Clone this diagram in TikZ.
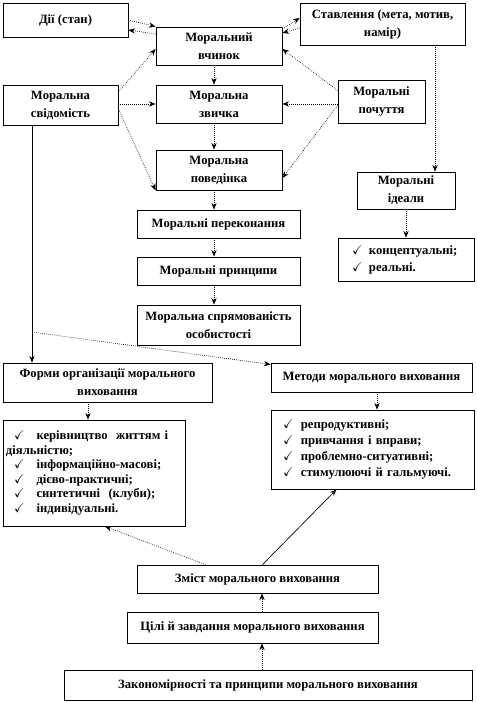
\documentclass[tikz,border=0pt]{standalone}
\usepackage{fontspec}
\usepackage{amssymb}
\setmainfont{Liberation Serif}
\usetikzlibrary{arrows.meta, positioning, calc}

\newcommand{\pxu}{0.75pt}

\begin{document}
\begin{tikzpicture}[
        x=0.75pt, y=-0.75pt,
        mbox/.style={
            rectangle,
            draw=black,
            line width=0.6pt,
            fill=white,
            align=center,
            font=\fontsize{9.5}{13.5}\selectfont\bfseries,
            inner sep=2pt
        },
        lbox/.style={
            rectangle,
            draw=black,
            line width=0.6pt,
            fill=white,
            align=left,
            inner sep=3*\pxu
        },
        sz/.style 2 args={
            minimum width=#1*\pxu,
            minimum height=#2*\pxu
        },
        arrow/.style={
            line width=0.5pt,
            -{Stealth[length=5pt, width=4pt]}
        },
        darrow/.style={
            arrow,
            densely dotted
        }
        ]

        \useasboundingbox (0,0) rectangle (476,702);

        % upper part
        \node (dii) [mbox, sz={125}{34}] at (65.5,20) {Дії (стан)};
        \node (vchynok) [mbox, sz={126}{38}] at (219,46) {Моральний\\вчинок};
        \node (stavl) [mbox, sz={165}{42}] at (382.5,24) {Ставлення (мета, мотив,\\намір)};
        \node (svid) [mbox, sz={115}{40}] at (60.5,105) {Моральна\\свідомість};
        \node (zvychka) [mbox, sz={126}{38}] at (219,104) {Моральна\\звичка};
        \node (pochutt) [mbox, sz={87}{43}] at (381.5,101.5) {Моральні\\почуття};
        \node (povedinka) [mbox, sz={126}{40}] at (219,170) {Моральна\\поведінка};
        \node (idealy) [mbox, sz={98}{37}] at (406,190.5) {Моральні\\ідеали};
        \node (idlist) [lbox, sz={136}{43}, text width=130*\pxu,
            font=\fontsize{9.5}{12.75}\selectfont\bfseries] at (406,259.5)
            {\hspace*{8.25pt}\checkmark\hspace{4.8pt}концептуальні;\\
             \hspace*{8.25pt}\checkmark\hspace{4.8pt}реальні.};

        \node (perek) [mbox, sz={163}{28}] at (218.5,224) {Моральні переконання};
        \node (pryntsyp) [mbox, sz={163}{28}] at (218.5,271) {Моральні принципи};
        \node (spryam) [mbox, sz={163}{40}] at (218.5,325) {Моральна спрямованість\\особистості};

        % lower part
        \node (formy) [mbox, sz={209}{39}] at (107.5,382.5) {Форми організації морального\\виховання};
        \node (formlist) [lbox, sz={182}{106}, text width=176*\pxu,
            font=\fontsize{9.5}{10.9}\selectfont\bfseries] at (94,473)
            {\hspace*{6pt}\checkmark\hspace{9pt}керівництво\ \ життям і\\
             діяльністю;\\
             \hspace*{6pt}\checkmark\hspace{9pt}інформаційно-масові;\\
             \hspace*{6pt}\checkmark\hspace{9pt}дієво-практичні;\\
             \hspace*{6pt}\checkmark\hspace{9pt}синтетичні\ \ (клуби);\\
             \hspace*{6pt}\checkmark\hspace{9pt}індивідуальні.};
        \node (metody) [mbox, sz={201}{29}] at (371.5,377.5) {Методи морального виховання};
        \node (metlist) [lbox, sz={203}{79}, text width=197*\pxu,
            font=\fontsize{9.5}{12}\selectfont\bfseries] at (372.5,449.5)
            {\hspace*{6.75pt}\checkmark\hspace{5.5pt}репродуктивні;\\
             \hspace*{6.75pt}\checkmark\hspace{5.5pt}привчання і вправи;\\
             \hspace*{6.75pt}\checkmark\hspace{5.5pt}проблемно-ситуативні;\\
             \hspace*{6.75pt}\checkmark\hspace{5.5pt}стимулюючі й гальмуючі.};

        \node (zmist) [mbox, sz={241}{28}] at (257.5,579) {Зміст морального виховання};
        \node (tsili) [mbox, sz={251}{31}] at (252.5,627.5) {Цілі й завдання морального виховання};
        \node (zakon) [mbox, sz={408}{30}] at (268,685) {Закономірності та принципи морального виховання};

        \coordinate (mid) at (214,0);
        \coordinate (rgt) at (435,0);
        \coordinate (lft) at (32,0);
        \coordinate (br) at (32,332);
        \coordinate (fx) at (88,0);
        \coordinate (mx) at (377,0);
        \coordinate (bx) at (262,0);

        % arrows round the act
        \draw [darrow] (dii.east) -- (vchynok.north west);
        \draw [darrow] ($(vchynok.west)+(0,-12)$) -- ($(dii.east)+(0,10)$);
        \draw [darrow] ($(vchynok.east)+(0,-17)$) -- ($(stavl.west)+(0,-6)$);
        \draw [darrow] ($(stavl.west)+(0,4)$) -- ($(vchynok.east)+(0,-13)$);

        \draw [darrow] ($(svid.east)+(0,-13)$) -- ($(vchynok.west)+(0,3)$);
        \draw [darrow] (svid.east |- zvychka.west) -- (zvychka.west);
        \draw [darrow] ($(svid.east)+(0,4)$) -- (povedinka.south west);

        \draw [darrow] ($(pochutt.west)+(0,-11)$) -- ($(vchynok.east)+(0,3)$);
        \draw [darrow] (pochutt.west |- zvychka.east) -- (zvychka.east);
        \draw [darrow] ($(pochutt.west)+(0,4)$) -- ($(povedinka.east)+(0,8)$);

        % middle chain
        \draw [darrow] (vchynok.south -| mid) -- (zvychka.north -| mid);
        \draw [darrow] (zvychka.south -| mid) -- (povedinka.north -| mid);
        \draw [darrow] (povedinka.south -| mid) -- (perek.north -| mid);
        \draw [darrow] (perek.south -| mid) -- (pryntsyp.north -| mid);
        \draw [darrow] (pryntsyp.south -| mid) -- (spryam.north -| mid);

        \draw [darrow] (stavl.south -| rgt) -- (idealy.north -| rgt);
        \draw [darrow] (idealy.south) -- (idlist.north);

        % to forms and methods
        \draw [arrow] (svid.south -| lft) -- (formy.north -| lft);
        \draw [darrow] (br) -- ($(metody.west)+(0,-13)$);
        \draw [darrow] (formy.south -| fx) -- (formlist.north -| fx);
        \draw [darrow] (metody.south -| mx) -- (metlist.north -| mx);

        % from the content up
        \draw [darrow] ($(zmist.north)+(-52,0)$) -- ($(formlist.south)+(11,0)$);
        \draw [arrow] ($(zmist.north)+(5,0)$) -- ($(metlist.south)+(-36,0)$);
        \draw [darrow] (tsili.north -| bx) -- (zmist.south -| bx);
        \draw [darrow] (zakon.north -| bx) -- (tsili.south -| bx);

    \end{tikzpicture}
\end{document}
